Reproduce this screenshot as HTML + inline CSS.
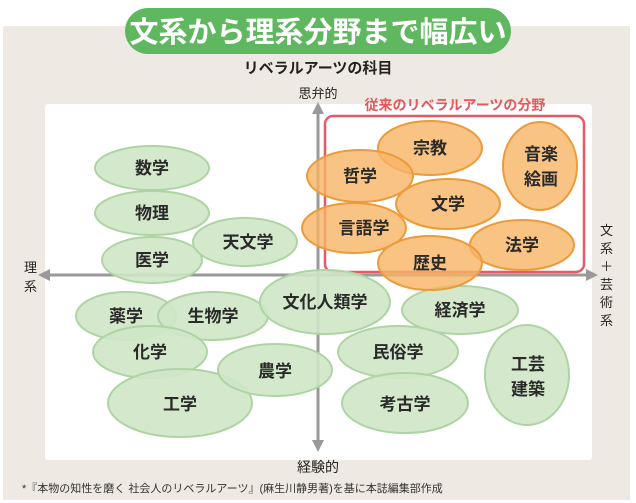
<!DOCTYPE html><html><head><meta charset="utf-8"><style>
body{margin:0;width:636px;height:503px;background:#fff;overflow:hidden}
svg{display:block}
text{font-family:"Liberation Sans","Noto Sans CJK JP",sans-serif}
</style></head><body>
<svg width="636" height="503" viewBox="0 0 636 503">
<rect x="3" y="26" width="627" height="474" fill="#efe9e3"/>
<rect x="125" y="8" width="386" height="46" rx="23" fill="#5fb760"/>
<text x="318" y="42" font-size="29" font-weight="bold" fill="#fff" text-anchor="middle">文系から理系分野まで幅広い</text>
<text x="318" y="73" font-size="15" font-weight="bold" fill="#222" text-anchor="middle">リベラルアーツの科目</text>
<text x="318" y="98" font-size="13" fill="#222" text-anchor="middle">思弁的</text>
<rect x="45" y="104" width="547" height="356" rx="3" fill="#fff"/>
<text x="455" y="110" font-size="14" font-weight="bold" fill="#e25a5a" text-anchor="middle">従来のリベラルアーツの分野</text>
<g stroke="#999" stroke-width="3" fill="#999">
<line x1="318" y1="112" x2="318" y2="442"/><line x1="50" y1="275" x2="588" y2="275"/>
</g>
<g fill="#999"><polygon points="318,102 312,114 324,114"/><polygon points="318,452 312,440 324,440"/><polygon points="38,275 50,269 50,281"/><polygon points="598,275 586,269 586,281"/></g>
<g font-size="13" fill="#222"><text x="24" y="272">理</text><text x="24" y="291">系</text>
<text x="600" y="235">文</text><text x="600" y="253">系</text><text x="600" y="271">＋</text><text x="600" y="289">芸</text><text x="600" y="307">術</text><text x="600" y="325">系</text></g>
<text x="318" y="472" font-size="14" fill="#222" text-anchor="middle">経験的</text>
<text x="22" y="492" font-size="11" fill="#333">*『本物の知性を磨く 社会人のリベラルアーツ』(麻生川静男著)を基に本誌編集部作成</text>
<rect x="325" y="116" width="259" height="156" rx="8" fill="none" stroke="#e35b66" stroke-width="2.5"/>
<g fill="#cfe7c6" stroke="#aed4a4" stroke-width="2" fill-opacity="0.9">
<ellipse cx="152" cy="168" rx="57" ry="22"/><ellipse cx="152" cy="213" rx="57" ry="22"/><ellipse cx="152" cy="260" rx="50" ry="23"/>
<ellipse cx="245" cy="242" rx="52" ry="24"/><ellipse cx="126" cy="316" rx="50" ry="24"/><ellipse cx="213" cy="316" rx="55" ry="24"/>
<ellipse cx="150" cy="352" rx="57" ry="26"/><ellipse cx="180" cy="403" rx="72" ry="34"/><ellipse cx="275" cy="370" rx="57" ry="26"/>
<ellipse cx="325" cy="302" rx="65" ry="32"/><ellipse cx="460" cy="310" rx="58" ry="24"/><ellipse cx="398" cy="352" rx="60" ry="26"/>
<ellipse cx="405" cy="403" rx="63" ry="30"/><ellipse cx="527" cy="375" rx="42" ry="50"/>
</g>
<g fill="#f7b465" stroke="#eb9b3a" stroke-width="2" fill-opacity="0.8">
<ellipse cx="430" cy="148" rx="52" ry="27"/><ellipse cx="540" cy="166" rx="37" ry="44"/><ellipse cx="360" cy="176" rx="53" ry="26"/>
<ellipse cx="448" cy="204" rx="52" ry="25"/><ellipse cx="354" cy="228" rx="52" ry="25"/><ellipse cx="522" cy="245" rx="52" ry="25"/><ellipse cx="430" cy="263" rx="52" ry="27"/>
</g>
<g font-size="17" font-weight="bold" fill="#2a2a2a" text-anchor="middle">
<text x="152" y="174">数学</text><text x="152" y="219">物理</text><text x="152" y="266">医学</text><text x="248" y="248">天文学</text>
<text x="126" y="322">薬学</text><text x="213" y="322">生物学</text><text x="150" y="358">化学</text><text x="180" y="410">工学</text>
<text x="275" y="377">農学</text><text x="325" y="308">文化人類学</text><text x="460" y="316">経済学</text><text x="398" y="358">民俗学</text>
<text x="405" y="410">考古学</text><text x="528" y="370">工芸</text><text x="528" y="395">建築</text>
<text x="430" y="154">宗教</text><text x="541" y="160">音楽</text><text x="541" y="185">絵画</text><text x="360" y="182">哲学</text>
<text x="448" y="210">文学</text><text x="364" y="234">言語学</text><text x="522" y="251">法学</text><text x="430" y="269">歴史</text>
</g>
</svg></body></html>
